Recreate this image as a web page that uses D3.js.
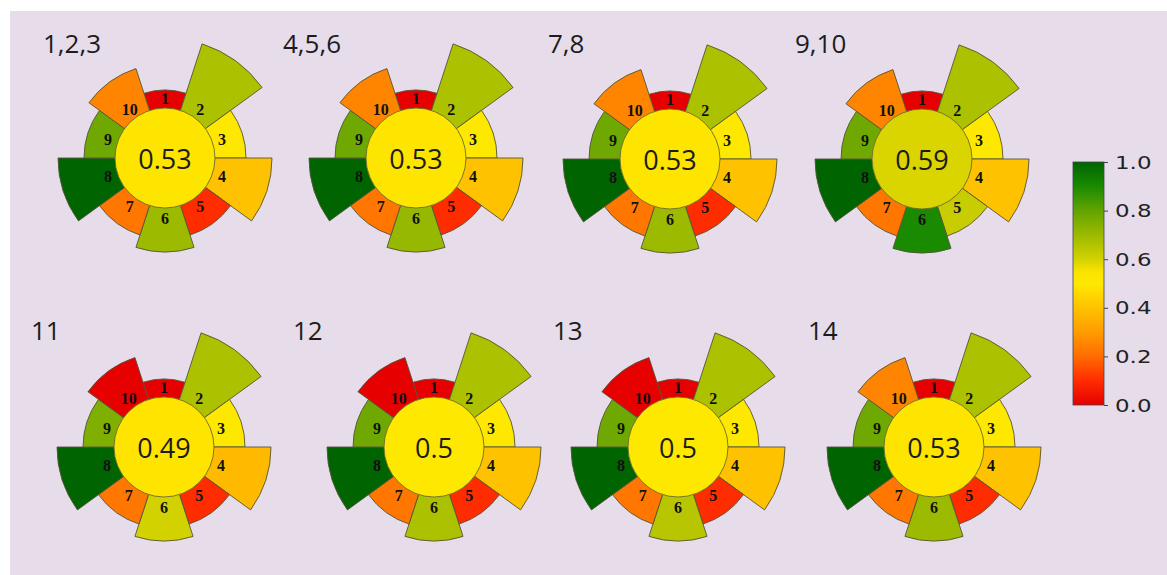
<!DOCTYPE html>
<html>
<head>
<meta charset="utf-8">
<script src="https://cdn.jsdelivr.net/npm/d3@7"></script>
<style>
  html, body { margin: 0; padding: 0; background: #ffffff; }
  svg { display: block; }
</style>
</head>
<body>
<svg id="chart" width="1167" height="575"></svg>
<script>
// Sample groups, one pictogram each
const groups = ["1,2,3", "4,5,6", "7,8", "9,10", "11", "12", "13", "14"];

// Criterion numbers around each pictogram
const criteria = [1, 2, 3, 4, 5, 6, 7, 8, 9, 10];

// Criterion weights (set the outer radius of each segment)
const weights = [1, 5, 2, 4, 2, 3, 2, 4, 2, 3];

// Criterion scores (0–1) for each group
const scores123 = [0.00, 0.67, 0.50, 0.40, 0.10, 0.70, 0.22, 1.00, 0.78, 0.25];
const scores456 = [0.00, 0.67, 0.50, 0.40, 0.10, 0.71, 0.22, 1.00, 0.78, 0.25];
const scores78  = [0.00, 0.67, 0.50, 0.40, 0.10, 0.70, 0.22, 1.00, 0.78, 0.25];
const scores910 = [0.00, 0.67, 0.50, 0.40, 0.62, 0.90, 0.22, 1.00, 0.78, 0.25];
const scores11  = [0.00, 0.67, 0.50, 0.38, 0.10, 0.60, 0.22, 1.00, 0.75, 0.00];
const scores12  = [0.00, 0.67, 0.50, 0.40, 0.10, 0.67, 0.22, 1.00, 0.78, 0.00];
const scores13  = [0.00, 0.67, 0.50, 0.40, 0.10, 0.65, 0.22, 1.00, 0.78, 0.00];
const scores14  = [0.00, 0.67, 0.50, 0.40, 0.10, 0.70, 0.22, 1.00, 0.78, 0.25];

// Overall score printed in the centre of each pictogram
const overall = [0.53, 0.53, 0.53, 0.59, 0.49, 0.5, 0.5, 0.53];

// Colour bar ticks
const barTicks = [0.0, 0.2, 0.4, 0.6, 0.8, 1.0];

const allScores = [scores123, scores456, scores78, scores910, scores11, scores12, scores13, scores14];

// ---- layout ----
const W = 1167, H = 575;
const centres = [[165, 158], [416, 158], [670, 159], [922, 159],
                 [164, 447], [434, 447], [678, 447], [934, 447]];
const titleAt = [[43, 53], [283, 53], [548, 53], [795, 53],
                 [31, 340], [293, 340], [553, 340], [808, 340]];
const innerR = 50;
const labelR = 60;

// red → yellow → dark green
const stopVals = [0.0, 0.1, 0.2, 0.3, 0.4, 0.5, 0.55, 0.6, 0.7, 0.8, 0.9, 1.0];
const stopCols = ["#e60000", "#ff2c00", "#ff6c00", "#ff9c00", "#ffc200", "#ffe800",
                  "#fbe300", "#d2d200", "#9cba00", "#62a400", "#1a8a00", "#006400"];
const color = d3.scaleLinear().domain(stopVals).range(stopCols)
  .interpolate(d3.interpolateRgb).clamp(true);

const rScale = d3.scaleLinear().domain([0, 5]).range([55, 120]);
const angle = d3.scaleLinear().domain([0, criteria.length]).range([0, 2 * Math.PI]);

const svg = d3.select("#chart");

svg.append("rect").attr("x", 10).attr("y", 11)
  .attr("width", W - 10).attr("height", H - 11)
  .attr("fill", "#e6dcea");

const arc = d3.arc()
  .innerRadius(0)
  .outerRadius(d => rScale(d.w))
  .startAngle(d => angle(d.i - 0.5))
  .endAngle(d => angle(d.i + 0.5));

groups.forEach((name, g) => {
  const [cx, cy] = centres[g];

  svg.append("text")
    .attr("x", titleAt[g][0]).attr("y", titleAt[g][1])
    .attr("font-family", "'Open Sans', 'Noto Sans', sans-serif")
    .attr("font-size", 26)
    .attr("fill", "#1c1c1c")
    .text(name);

  const pic = svg.append("g").attr("transform", `translate(${cx},${cy})`);

  const segs = criteria.map((c, i) => ({ i, c, w: weights[i], s: allScores[g][i] }));

  pic.selectAll("path.seg").data(segs).join("path")
    .attr("class", "seg")
    .attr("d", arc)
    .attr("fill", d => color(d.s))
    .attr("stroke", "#55553a")
    .attr("stroke-width", 0.9)
    .attr("stroke-linejoin", "miter");

  pic.append("circle")
    .attr("r", innerR)
    .attr("fill", color(overall[g]))
    .attr("stroke", "#6b6a30")
    .attr("stroke-width", 0.9);

  pic.selectAll("text.num").data(segs).join("text")
    .attr("class", "num")
    .attr("x", d => Math.sin(angle(d.i)) * labelR)
    .attr("y", d => -Math.cos(angle(d.i)) * labelR)
    .attr("text-anchor", "middle")
    .attr("dominant-baseline", "central")
    .attr("font-family", "'Liberation Serif', 'Times New Roman', serif")
    .attr("font-weight", "bold")
    .attr("font-size", 16)
    .attr("fill", "#111")
    .text(d => d.c);

  pic.append("text")
    .attr("x", 0).attr("y", 0)
    .attr("text-anchor", "middle")
    .attr("dominant-baseline", "central")
    .attr("font-family", "'Open Sans', 'Noto Sans', sans-serif")
    .attr("font-size", 27)
    .attr("fill", "#1c1c1c")
    .text(overall[g]);
});

// ---- colour bar ----
const barX = 1073, barW = 31, barTop = 162, barBottom = 405;
const barScale = d3.scaleLinear().domain([0, 1]).range([barBottom, barTop]);

const defs = svg.append("defs");
const grad = defs.append("linearGradient")
  .attr("id", "cbar").attr("x1", 0).attr("y1", 1).attr("x2", 0).attr("y2", 0);
grad.selectAll("stop").data(stopVals).join("stop")
  .attr("offset", d => d)
  .attr("stop-color", d => color(d));

svg.append("rect")
  .attr("x", barX).attr("y", barTop)
  .attr("width", barW).attr("height", barBottom - barTop)
  .attr("fill", "url(#cbar)")
  .attr("stroke", "#444").attr("stroke-width", 0.8);

const axis = svg.append("g")
  .attr("transform", `translate(${barX + barW},0)`)
  .call(d3.axisRight(barScale).tickValues(barTicks).tickFormat(d3.format(".1f")).tickSize(4));
axis.select(".domain").remove();
axis.selectAll(".tick line").attr("stroke", "#444");
axis.selectAll(".tick text")
  .attr("x", 0)
  .attr("dy", "0.36em")
  .attr("text-anchor", "start")
  .attr("transform", "translate(11,0) scale(1.35,1)")
  .attr("font-family", "'DejaVu Sans', sans-serif")
  .attr("font-size", 17)
  .attr("fill", "#222");
</script>
</body>
</html>
